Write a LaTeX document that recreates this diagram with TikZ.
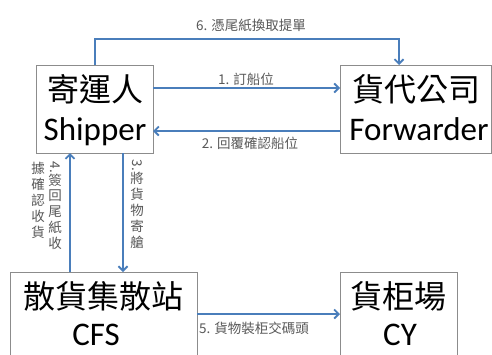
\documentclass[tikz,border=0pt]{standalone}
\usepackage{fontspec}
\setmainfont{Carlito}
\newfontfamily\cjk{Noto Sans CJK TC}
\usetikzlibrary{arrows.meta}
\definecolor{arrowblue}{HTML}{4A7EBB}
\definecolor{boxgray}{HTML}{8C8C8C}
\definecolor{labelgray}{HTML}{595959}
\begin{document}
\begin{tikzpicture}[x=1pt,y=-1pt,
  box/.style={draw=boxgray,line width=0.9pt,rectangle,inner sep=0pt,outer sep=0pt},
  bigzh/.style={font=\cjk\fontsize{32}{32}\selectfont,anchor=base,inner sep=0pt},
  bigen/.style={font=\fontsize{33}{33}\selectfont,anchor=base,inner sep=0pt},
  lab/.style={font=\cjk\fontsize{13.5}{15.5}\selectfont,text=labelgray,inner sep=0pt},
  arr/.style={draw=arrowblue,line width=1.8pt,-{Straight Barb[length=4.5pt,width=9pt,line width=1.8pt]}}]
\useasboundingbox (0,0) rectangle (492,354);
\fill[white] (0,0) rectangle (492,354);
% boxes
\node[box,minimum width=117pt,minimum height=88pt] (shipper) at (94.5,109) {};
\node[box,minimum width=151pt,minimum height=88pt] (forwarder) at (415.5,109) {};
\node[box,minimum width=187pt,minimum height=100pt] (cfs) at (103.5,322) {};
\node[box,minimum width=117pt,minimum height=100pt] (cy) at (398.5,322) {};
% box texts
\node[bigzh] (shipperzh) at (95,101) {寄運人};
\node[bigen] (shipperen) at (95,140) {Shipper};
\node[bigzh] (forwarderzh) at (416,101) {貨代公司};
\node[bigen] (forwarderen) at (419,140) {Forwarder};
\node[bigzh] (cfszh) at (103,308) {散貨集散站};
\node[bigen] (cfsen) at (96,345) {CFS};
\node[bigzh] (cyzh) at (398,308) {貨柜場};
\node[bigen] (cyen) at (400,345) {CY};
% connectors
\draw[arr] ([xshift=59pt]shipper.north west) -- ++(0,-26) -| ([xshift=59pt]forwarder.north west);
\draw[arr] ([yshift=-23pt]shipper.north east) -- ([yshift=-23pt]forwarder.north west);
\draw[arr] ([yshift=-66pt]forwarder.north west) -- ([yshift=-66pt]shipper.north east);
\draw[arr] ([xshift=87pt]shipper.south west) -- ([xshift=113pt]cfs.north west);
\draw[arr] ([xshift=60pt]cfs.north west) -- ([xshift=34pt]shipper.south west);
\draw[arr] ([yshift=-42pt]cfs.north east) -- ([yshift=-42pt]cy.north west);
% labels
\node[lab] (l6) at (251,25) {6. 憑尾紙換取提單};
\node[lab] (l1) at (246,79) {1. 訂船位};
\node[lab] (l2) at (250,143) {2. 回覆確認船位};
\node[lab] (l5) at (254,328) {5. 貨物裝柜交碼頭};
\node[lab,anchor=north] (l3) at (137,159) {\begin{tabular}{@{}c@{}}\rotatebox[origin=c]{-90}{3.}\\[-3pt]將\\貨\\物\\寄\\艙\end{tabular}};
\node[lab,anchor=north] (l4b) at (55,161) {\begin{tabular}{@{}c@{}}\rotatebox[origin=c]{-90}{4.}\\[-3pt]簽\\回\\尾\\紙\\收\end{tabular}};
\node[lab,anchor=north] (l4a) at (38,162) {\begin{tabular}{@{}c@{}}據\\確\\認\\收\\貨\end{tabular}};
\end{tikzpicture}
\end{document}
